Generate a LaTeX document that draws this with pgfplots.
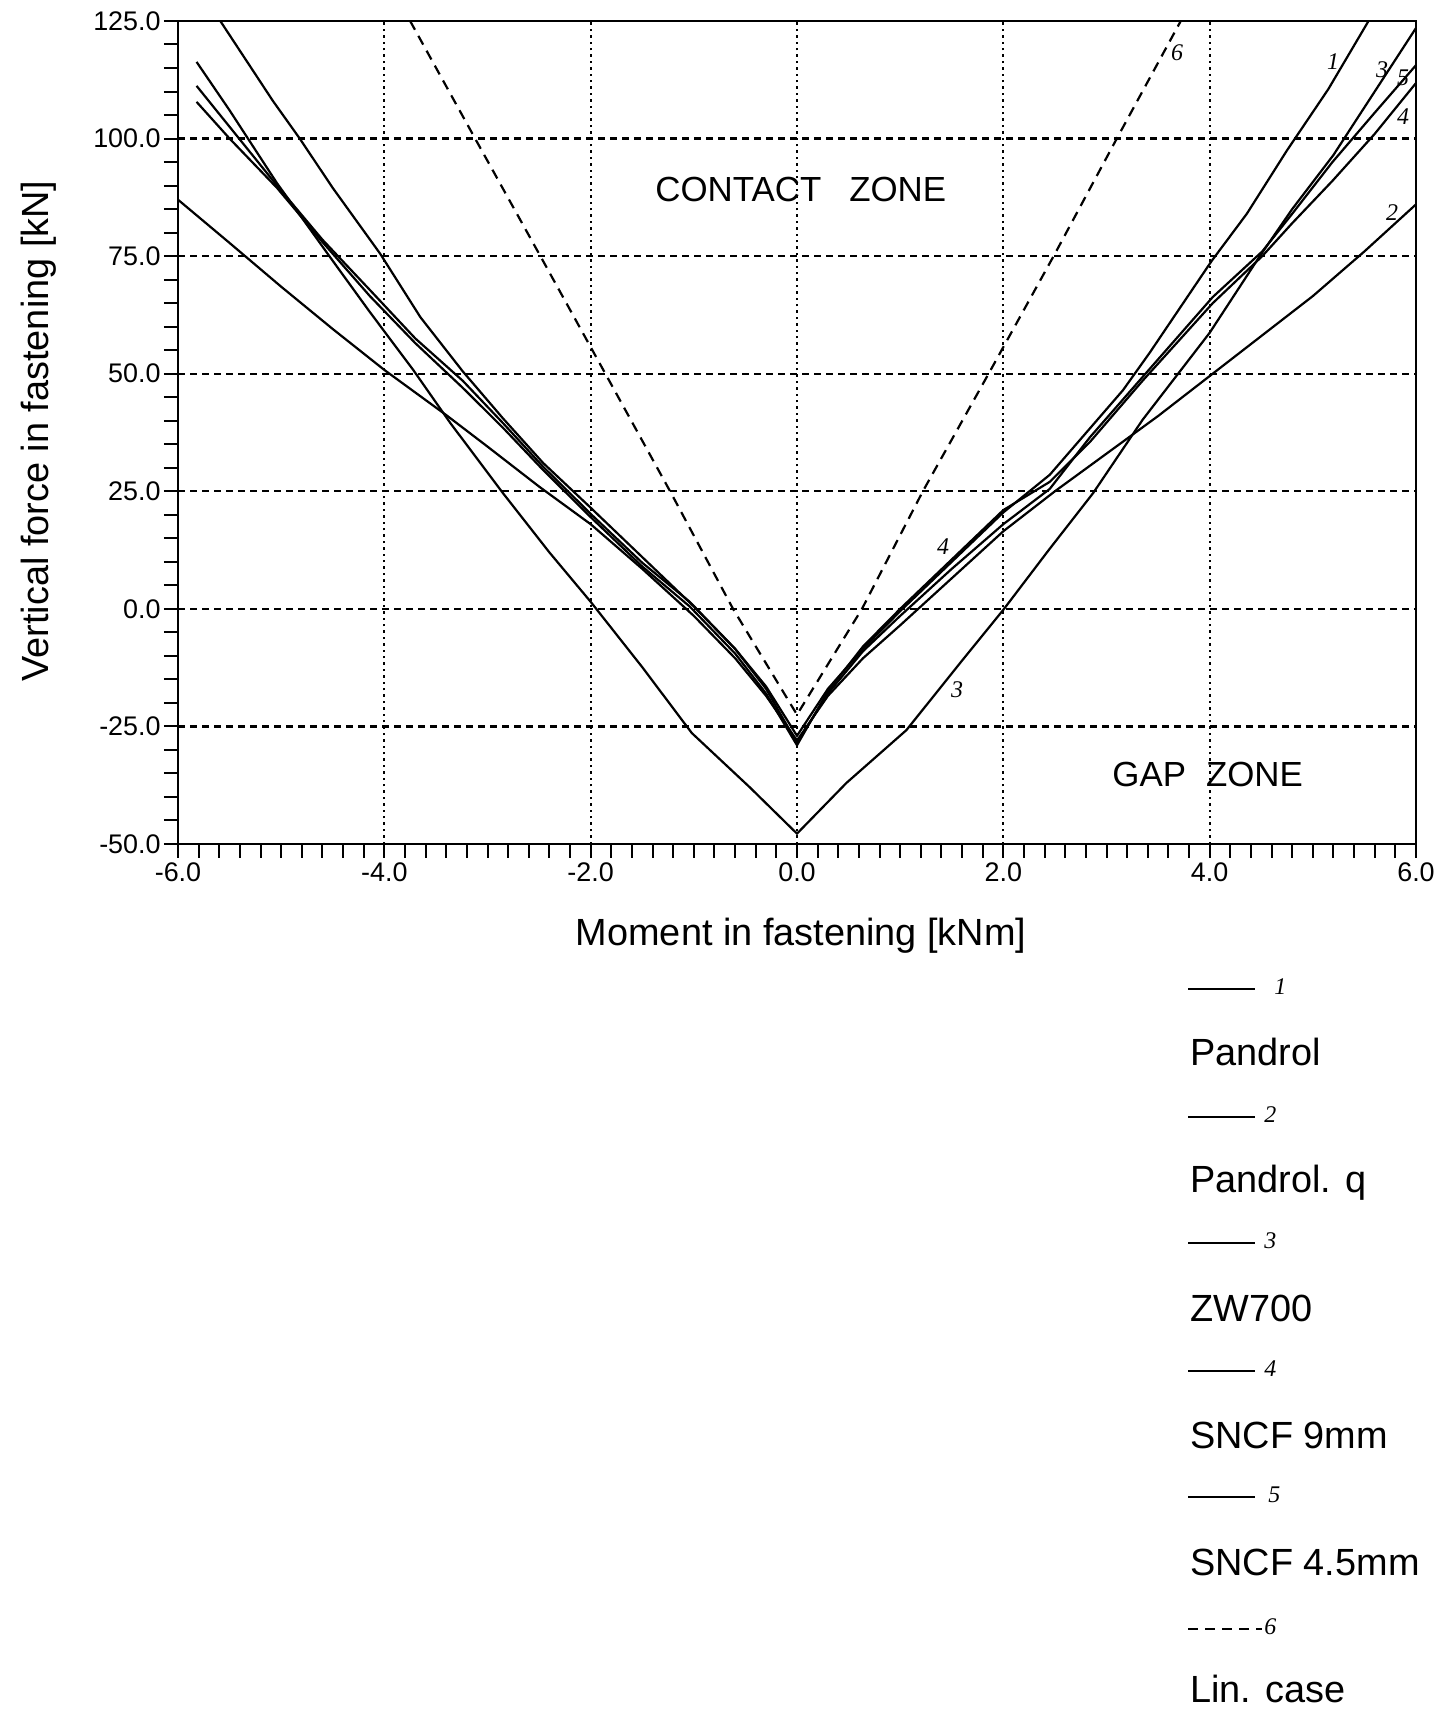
\documentclass[border=0pt]{standalone}
\usepackage{fontspec}
\setmainfont{Liberation Sans}
\newfontfamily\hand{Liberation Serif}
\usepackage{pgfplots}
\pgfplotsset{compat=1.18}
\begin{document}
\begin{tikzpicture}
\useasboundingbox (0,0) rectangle (723bp,854.5bp);
\begin{axis}[
  at={(89bp,432.5bp)}, anchor=south west,
  scale only axis, width=619bp, height=411.5bp,
  xmin=-6, xmax=6, ymin=-50, ymax=125,
  xtick={-6,-4,-2,0,2,4,6},
  xticklabels={-6.0,-4.0,-2.0,0.0,2.0,4.0,6.0},
  ytick={-50,-25,0,25,50,75,100,125},
  yticklabels={-50.0,-25.0,0.0,25.0,50.0,75.0,100.0,125.0},
  minor x tick num=9, minor y tick num=4,
  tick pos=left, tick align=outside,
  major tick length=7bp, minor tick length=7bp,
  every tick/.style={black, line width=1bp},
  axis line style={black, line width=1.4bp},
  ticklabel style={font=\fontsize{13.5}{13.5}\selectfont},
  xticklabel style={inner sep=2bp},
  yticklabel style={inner sep=1.5bp},
  xmajorgrids, ymajorgrids,
  major x grid style={black, line width=1.1bp, dash pattern=on 1.2bp off 2bp},
  major y grid style={black, line width=1.1bp, dash pattern=on 3.5bp off 2.5bp},
]
% 1 Pandrol
\addplot[black, line width=1.1bp] coordinates {
(-5.59,125) (-5.08,108) (-4.82,100) (-4.5,89.5) (-4.04,75.5) (-3.65,62) (-3.24,50.5)
(-2.85,40.5) (-2.46,31) (-2.0,21.5) (-1.5,11) (-1.0,0.5) (-0.6,-8.5) (-0.3,-16.5) (0,-27)
(0.3,-17) (0.64,-8.5) (1.0,-0.5) (1.5,10) (2.0,20.5) (2.45,28.5) (3.16,46.5) (3.42,54.5)
(4.02,74) (4.36,84) (4.75,97.5) (5.15,110.5) (5.54,125)};
% 2 Pandrol q
\addplot[black, line width=1.1bp] coordinates {
(-6,87) (-5.5,77.8) (-5,68.5) (-4.5,59.5) (-4,50.8) (-3.4,41.2) (-3,34.5) (-2.5,26) (-2,18)
(-1.5,8.5) (-1,-1.5) (-0.6,-10.5) (-0.3,-18.5) (0,-28)
(0.3,-18.5) (0.64,-10.5) (1.0,-3.5) (1.5,6.5) (2.0,16.5) (2.5,25) (3.0,33) (3.5,41)
(4.0,49.5) (4.5,58) (5.0,66.5) (5.5,76) (6,86)};
% 3 ZW700
\addplot[black, line width=1.1bp] coordinates {
(-5.82,116.3) (-5.5,106) (-5.04,90.5) (-4.5,74) (-4.14,63.1) (-3.72,50.8) (-3.36,39.5)
(-2.85,24.6) (-2.4,12) (-2.0,1.5) (-1.5,-12.4) (-1.02,-26.4) (-0.46,-37.9) (0,-47.8)
(0.48,-37) (1.06,-25.8) (1.6,-11) (2.0,-0.2) (2.44,12.5) (2.87,24.6) (3.35,40.2)
(4.0,58.7) (4.48,74.8) (4.8,85) (5.2,96.5) (5.6,110) (6.0,123.5)};
% 4 SNCF 9mm
\addplot[black, line width=1.1bp] coordinates {
(-5.82,107.8) (-5.5,100) (-5.04,89.5) (-4.6,78) (-4.14,66.5) (-3.7,56.5) (-3.24,47)
(-2.85,38.5) (-2.46,29.5) (-2.0,19.5) (-1.5,9) (-1.04,0.5) (-0.6,-9.5) (-0.3,-18) (0,-29)
(0.3,-17.5) (0.64,-8) (1.0,0) (1.5,10.5) (2.0,21) (2.45,27) (2.84,35.5) (3.35,48.5)
(4.03,65) (4.51,75) (4.8,82) (5.19,91) (5.6,101) (6,111.8)};
% 5 SNCF 4.5mm
\addplot[black, line width=1.1bp] coordinates {
(-5.82,111.2) (-5.5,102.5) (-5.04,90) (-4.6,78.5) (-4.14,67.8) (-3.7,57.5) (-3.24,48.5)
(-2.85,39.5) (-2.46,30.2) (-2.0,20.2) (-1.5,9.8) (-1.04,1.5) (-0.6,-8.5) (-0.3,-17) (0,-28.5)
(0.3,-18) (0.64,-9) (1.0,-1.5) (1.5,8.5) (2.0,18) (2.45,25.5) (2.84,36.5) (3.35,49.3)
(4.03,66.3) (4.51,76) (4.8,84) (5.19,95) (5.6,105.5) (6,115.6)};
% 6 Lin. case
\addplot[black, line width=1.1bp, dash pattern=on 5bp off 3.5bp] coordinates {
(-3.75,125) (-3.12,100) (-2.5,75.5) (-1.87,50.5) (-1.23,25) (-0.62,0) (0,-22.5)
(0.63,0) (1.22,25) (1.87,50.5) (2.5,75.5) (3.1,100) (3.72,125)};
\end{axis}
% axis titles
\node[rotate=90, anchor=base, font=\fontsize{19}{19}\selectfont] at (24bp,639bp) {Vertical force in fastening [kN]};
\node[anchor=base, font=\fontsize{19}{19}\selectfont] at (400.5bp,381.5bp) {Moment in fastening [kNm]};
% zone labels
\node[anchor=base west, inner sep=0pt, font=\fontsize{17.5}{17.5}\selectfont] at (327.5bp,753.5bp) {CONTACT\hspace{14bp}ZONE};
\node[anchor=base west, inner sep=0pt, font=\fontsize{17.5}{17.5}\selectfont] at (556bp,461bp) {GAP\hspace{10bp}ZONE};
% handwritten curve numbers
\begin{scope}[every node/.style={font=\hand\itshape\fontsize{12}{12}\selectfont, inner sep=0pt}]
\node at (588.5bp,828bp) {6};
\node at (666.5bp,823.5bp) {1};
\node at (691bp,819.5bp) {3};
\node at (701.5bp,815.5bp) {5};
\node at (701.5bp,796bp) {4};
\node at (696bp,748bp) {2};
\node at (471.5bp,581bp) {4};
\node at (478.5bp,509.5bp) {3};
\end{scope}
% legend
\begin{scope}[line width=1bp]
\draw (594bp,360bp) -- (627.5bp,360bp);
\draw (594bp,296bp) -- (627.5bp,296bp);
\draw (594bp,233bp) -- (627.5bp,233bp);
\draw (594bp,169bp) -- (627.5bp,169bp);
\draw (594bp,106bp) -- (627.5bp,106bp);
\draw[dash pattern=on 5bp off 3.5bp] (594bp,40bp) -- (631bp,40bp);
\end{scope}
\begin{scope}[every node/.style={font=\hand\itshape\fontsize{12}{12}\selectfont, inner sep=0pt, anchor=west}]
\node at (637bp,361bp) {1};
\node at (632bp,297bp) {2};
\node at (632bp,234bp) {3};
\node at (632bp,170bp) {4};
\node at (634bp,107bp) {5};
\node at (632bp,41bp) {6};
\end{scope}
\begin{scope}[every node/.style={font=\fontsize{19}{19}\selectfont, inner sep=0pt, anchor=base west}]
\node at (595bp,321.9bp) {Pandrol};
\node at (595bp,258.4bp) {Pandrol. q};
\node at (595bp,193.9bp) {ZW700};
\node at (595bp,130.4bp) {SNCF 9mm};
\node at (595bp,66.9bp) {SNCF 4.5mm};
\node at (595bp,3.4bp) {Lin. case};
\end{scope}
\end{tikzpicture}
\end{document}
